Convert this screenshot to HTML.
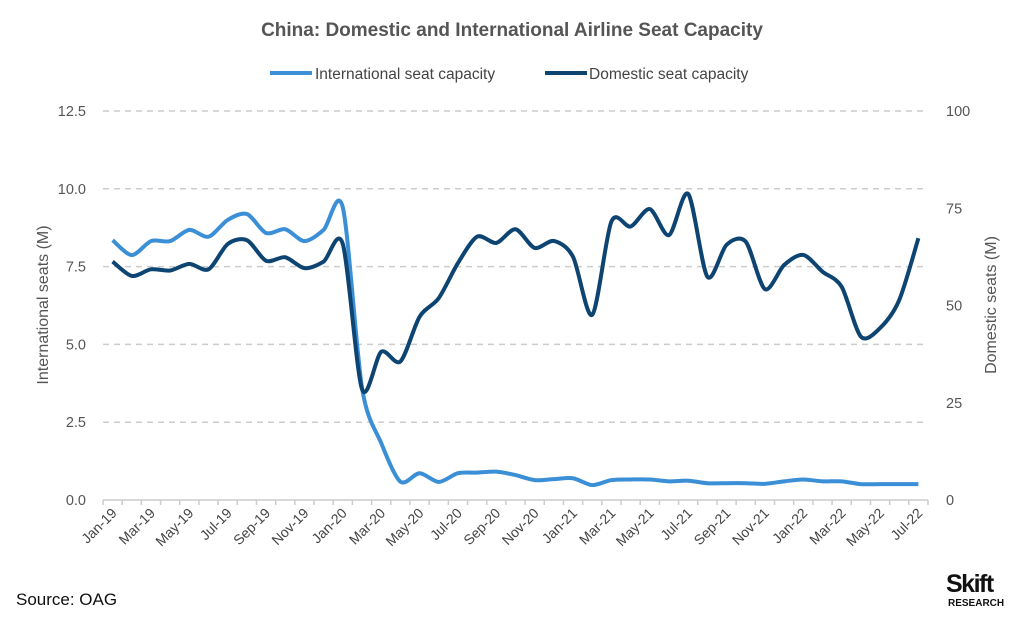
<!DOCTYPE html>
<html><head><meta charset="utf-8"><style>
body{margin:0;background:#fff;width:1024px;height:621px;overflow:hidden;font-family:"Liberation Sans",sans-serif}
</style></head><body>
<svg id="c" width="1024" height="621" xmlns="http://www.w3.org/2000/svg">
<text x="512" y="36" text-anchor="middle" font-size="19" font-weight="bold" fill="#555">China: Domestic and International Airline Seat Capacity</text>
<g>
<g><line x1="270" y1="73" x2="312" y2="73" stroke="#3a8fd6" stroke-width="4"/><text x="315" y="79" font-size="15.5" fill="#444">International seat capacity</text></g>
<g><line x1="545" y1="73" x2="587" y2="73" stroke="#0d4471" stroke-width="4"/><text x="589" y="79" font-size="15.5" fill="#444">Domestic seat capacity</text></g>
</g>
<g id="grid"></g><g id="ticks"></g><g id="lines"></g>
<text transform="translate(48,305) rotate(-90)" text-anchor="middle" font-size="16" fill="#555">International seats (M)</text>
<text transform="translate(996,305) rotate(-90)" text-anchor="middle" font-size="16" fill="#555">Domestic seats (M)</text>
<text x="16" y="605" font-size="17" fill="#111">Source: OAG</text>
<g><text x="946" y="592" font-size="25" font-weight="bold" fill="#111" letter-spacing="-1.5">Skift</text><text x="948" y="606" font-size="10" font-weight="bold" fill="#111">RESEARCH</text></g>
</svg>
<script>
const months=["Jan-19","Feb-19","Mar-19","Apr-19","May-19","Jun-19","Jul-19","Aug-19","Sep-19","Oct-19","Nov-19","Dec-19","Jan-20","Feb-20","Mar-20","Apr-20","May-20","Jun-20","Jul-20","Aug-20","Sep-20","Oct-20","Nov-20","Dec-20","Jan-21","Feb-21","Mar-21","Apr-21","May-21","Jun-21","Jul-21","Aug-21","Sep-21","Oct-21","Nov-21","Dec-21","Jan-22","Feb-22","Mar-22","Apr-22","May-22","Jun-22","Jul-22"];
const intl=[8.35,7.87,8.32,8.32,8.68,8.46,9.0,9.19,8.58,8.7,8.32,8.68,9.4,3.6,1.83,0.59,0.86,0.58,0.86,0.88,0.91,0.8,0.64,0.67,0.7,0.48,0.64,0.66,0.66,0.6,0.62,0.54,0.54,0.54,0.52,0.6,0.66,0.6,0.6,0.51,0.51,0.51,0.51];
const dom=[61.3,57.6,59.3,59.0,60.7,59.3,65.8,66.8,61.5,62.4,59.6,61.3,65.8,28.5,38.1,35.6,47.1,51.9,60.9,67.7,66.1,69.6,64.8,66.6,62.5,47.6,71.6,70.3,74.8,68.1,78.7,57.4,65.6,66.4,54.2,60.4,63.0,58.7,54.8,42.0,44.2,51.4,67.3];
const leftTicks=["0.0","2.5","5.0","7.5","10.0","12.5"];
const rightTicks=["0","25","50","75","100"];
const NS="http://www.w3.org/2000/svg";
const X0=103,X1=928,Y0=500,Y1=111;
const bw=(X1-X0)/months.length;
const xs=i=>X0+bw*(i+0.5);
const yL=v=>Y0-(v/12.5)*(Y0-Y1);
const yR=v=>Y0-(v/100)*(Y0-Y1);
function mk(t,a,p){const e=document.createElementNS(NS,t);for(const k in a)e.setAttribute(k,a[k]);(p||document.getElementById('c')).appendChild(e);return e;}
const grid=document.getElementById('grid'),ticks=document.getElementById('ticks'),lines=document.getElementById('lines');
leftTicks.forEach(t=>{const y=yL(parseFloat(t));
 if(parseFloat(t)>0){const g=mk('line',{x1:X0,x2:X1,y1:y,y2:y,stroke:'#ccc','stroke-dasharray':'6,5','stroke-width':1.5},grid);
 
 }
 const tx=mk('text',{x:86,y:y+5,'text-anchor':'end','font-size':14.5,fill:'#555'},ticks);tx.textContent=t;
 
 });
rightTicks.forEach(t=>{const y=yR(parseFloat(t));
 const tx=mk('text',{x:946,y:y+5,'font-size':14.5,fill:'#555'},ticks);tx.textContent=t;
 
 });
const ax=mk('line',{x1:X0,x2:X1,y1:Y0,y2:Y0,stroke:'#ccc','stroke-width':1.5},ticks);


for(let i=0;i<=months.length;i++){const x=X0+bw*i;mk('line',{x1:x,x2:x,y1:Y0,y2:Y0+5,stroke:'#ccc','stroke-width':1.5},ticks);}
months.forEach((m,i)=>{if(i%2)return;const x=xs(i);
 const tx=mk('text',{x:x+5,y:Y0+14,'text-anchor':'end','font-size':14,fill:'#444',transform:`rotate(-45 ${x+5} ${Y0+14})`},ticks);tx.textContent=m;
 
 });
function path(vals,fy){const p=vals.map((v,i)=>[xs(i),fy(v)]);let d=`M${p[0][0]},${p[0][1]}`;const k=1/7;
 for(let i=0;i<p.length-1;i++){const a=p[Math.max(0,i-1)],b=p[i],c=p[i+1],e=p[Math.min(p.length-1,i+2)];
 const c1=[b[0]+(c[0]-a[0])*k,b[1]+(c[1]-a[1])*k],c2=[c[0]-(e[0]-b[0])*k,c[1]-(e[1]-b[1])*k];
 d+=` C${c1[0]},${c1[1]} ${c2[0]},${c2[1]} ${c[0]},${c[1]}`;}return d;}
const l1=mk('path',{d:path(intl,yL),fill:'none',stroke:'#3a8fd6','stroke-width':4,'stroke-linejoin':'round'},lines);


const l2=mk('path',{d:path(dom,yR),fill:'none',stroke:'#0d4471','stroke-width':4,'stroke-linejoin':'round'},lines);


</script>
</body></html>
